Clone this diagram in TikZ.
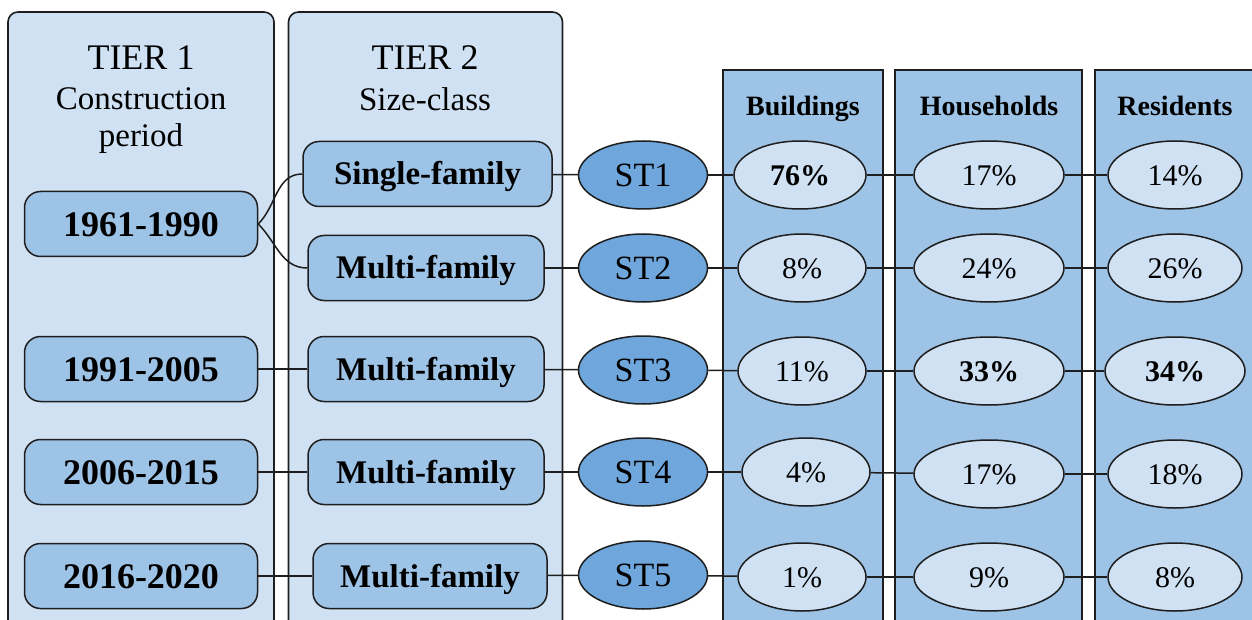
\documentclass[tikz,border=0pt]{standalone}
\usepackage{fontspec}
\setmainfont{Liberation Serif}
\usetikzlibrary{shapes.geometric}
\definecolor{panelfill}{RGB}{207,225,242}
\definecolor{boxfill}{RGB}{157,195,230}
\definecolor{stfill}{RGB}{111,166,219}
\definecolor{pctfill}{RGB}{207,225,242}
\definecolor{linec}{RGB}{30,30,30}
\tikzset{
  panel/.style={draw=linec, line width=1.6pt, fill=panelfill, rounded corners=10pt, inner sep=0pt},
  colbox/.style={draw=linec, line width=1.6pt, fill=boxfill, inner sep=0pt},
  periodbox/.style={draw=linec, line width=1.5pt, fill=boxfill, rounded corners=16pt, minimum width=233pt, minimum height=65pt, inner sep=0pt, text height=24.5pt, text depth=0pt, font=\fontsize{36}{40}\selectfont\bfseries},
  sizebox/.style={draw=linec, line width=1.5pt, fill=boxfill, rounded corners=16pt, minimum height=65pt, inner sep=0pt, text height=22pt, text depth=0pt, font=\fontsize{33}{38}\selectfont\bfseries},
  stnode/.style={ellipse, draw=linec, line width=1.5pt, fill=stfill, minimum width=129pt, minimum height=68pt, inner sep=0pt, text height=22.5pt, text depth=0pt, font=\fontsize{34}{38}\selectfont},
  pct/.style={ellipse, draw=linec, line width=1.5pt, fill=pctfill, minimum height=68pt, inner sep=0pt, text height=20.5pt, text depth=0pt, font=\fontsize{30}{34}\selectfont},
  ttl/.style={inner sep=0pt, font=\fontsize{36}{40}\selectfont},
  sub/.style={inner sep=0pt, font=\fontsize{33}{38}\selectfont},
  hdr/.style={font=\fontsize{28}{32}\selectfont\bfseries, inner sep=0pt, text height=18.5pt, text depth=0pt},
  conn/.style={draw=linec, line width=1.5pt},
}
\begin{document}
\begin{tikzpicture}[x=1pt,y=-1pt]
\useasboundingbox (0,0) rectangle (1252,620);
\clip (0,0) rectangle (1252,620);
% panels
\node[panel, minimum width=266pt, minimum height=620pt] (p1) at (141,322) {};
\node[panel, minimum width=274pt, minimum height=620pt] (p2) at (425.5,322) {};
\node[colbox, minimum width=160pt, minimum height=560pt] (cb) at (803,350) {};
\node[colbox, minimum width=187pt, minimum height=560pt] (ch) at (988.5,350) {};
\node[colbox, minimum width=170pt, minimum height=560pt] (cr) at (1180,350) {};
% titles
\node[ttl] (t1) at (141,58) {TIER 1};
\node[sub] (t1b) at (141,99) {Construction};
\node[sub] (t1c) at (141,139) {period};
\node[ttl] (t2) at (425,58) {TIER 2};
\node[sub] (t2b) at (425,99) {Size-class};
\node[hdr] (hb) at (803,106) {Buildings};
\node[hdr] (hh) at (989,106) {Households};
\node[hdr] (hr) at (1175,106) {Residents};
% periods
\node[periodbox] (a1) at (141,224) {1961-1990};
\node[periodbox] (a3) at (141,369) {1991-2005};
\node[periodbox] (a4) at (141,472) {2006-2015};
\node[periodbox] (a5) at (141,576) {2016-2020};
% size classes
\node[sizebox, minimum width=249pt] (b1) at (427.5,174) {Single-family};
\node[sizebox, minimum width=236pt] (b2) at (426,268) {Multi-family};
\node[sizebox, minimum width=236pt] (b3) at (426,369) {Multi-family};
\node[sizebox, minimum width=236pt] (b4) at (426,472) {Multi-family};
\node[sizebox, minimum width=234pt] (b5) at (430,576) {Multi-family};
% ST
\node[stnode] (s1) at (643,175) {ST1};
\node[stnode] (s2) at (643,268) {ST2};
\node[stnode] (s3) at (643,370) {ST3};
\node[stnode] (s4) at (643,472) {ST4};
\node[stnode] (s5) at (643,575) {ST5};
% buildings
\node[pct, minimum width=132pt] (g1) at (800,175) {\bfseries 76\%};
\node[pct, minimum width=128pt] (g2) at (802,268) {8\%};
\node[pct, minimum width=128pt] (g3) at (802,371) {11\%};
\node[pct, minimum width=128pt] (g4) at (806,472) {4\%};
\node[pct, minimum width=128pt] (g5) at (802,577) {1\%};
% households
\node[pct, minimum width=150pt] (h1) at (989,175) {17\%};
\node[pct, minimum width=150pt] (h2) at (989,268) {24\%};
\node[pct, minimum width=150pt] (h3) at (989,371) {\bfseries 33\%};
\node[pct, minimum width=150pt] (h4) at (989,474) {17\%};
\node[pct, minimum width=150pt] (h5) at (989,577) {9\%};
% residents
\node[pct, minimum width=134pt] (r1) at (1175,175) {14\%};
\node[pct, minimum width=134pt] (r2) at (1175,268) {26\%};
\node[pct, minimum width=140pt] (r3) at (1175,371) {\bfseries 34\%};
\node[pct, minimum width=134pt] (r4) at (1175,474) {18\%};
\node[pct, minimum width=134pt] (r5) at (1175,577) {8\%};
% connectors
\draw[conn] (a1.east) to[out=45,in=180] (b1.west);
\draw[conn] (a1.east) to[out=-45,in=180] (b2.west);
\draw[conn] (a3) -- (b3);
\draw[conn] (a4) -- (b4);
\draw[conn] (a5) -- (b5);
\foreach \i in {1,...,5}{
  \draw[conn] (b\i) -- (s\i);
  \draw[conn] (s\i) -- (g\i);
  \draw[conn] (g\i) -- (h\i);
  \draw[conn] (h\i) -- (r\i);
}
\end{tikzpicture}
\end{document}
